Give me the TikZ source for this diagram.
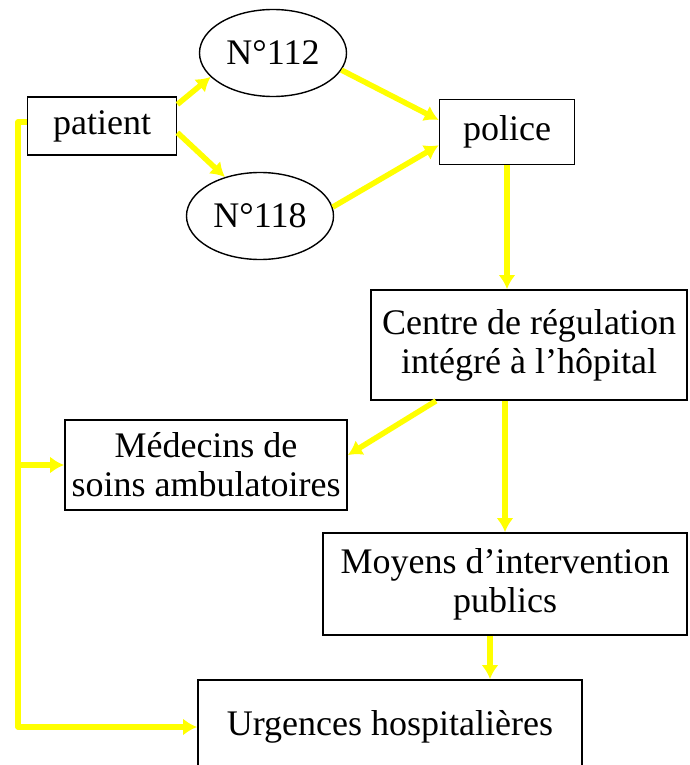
\documentclass[tikz,border=0pt]{standalone}
\usepackage{fontspec}
\setmainfont{Liberation Serif}
\usepackage{tikz}
\usetikzlibrary{shapes.geometric}
\usetikzlibrary{arrows.meta}
\definecolor{jaune}{RGB}{255,255,0}
\tikzset{
  Boite/.style={draw,line width=1.8pt,rectangle,align=center,inner sep=0pt}, % pour les cadres
  Ovale/.style={draw,line width=1.4pt,ellipse,inner sep=0pt,minimum width=147pt,minimum height=87pt}, % pour les numeros
  Fleche/.style={jaune,line width=5.5pt,->} % pour les fleches
}

\begin{document}
\begin{tikzpicture}[
x=1pt, y=-1pt,
font=\fontsize{36}{39}\selectfont,
>={Latex[length=14pt,width=17pt]} % pointes des fleches
]
\clip (0,0) rectangle (689,765);

%Cadres
\node[Boite, minimum width=149pt, minimum height=58pt] (patient) at (102,126) {patient};
\node[Ovale] (num112) at (273,53) {N°112};
\node[Ovale] (num118) at (260,216) {N°118};
\node[Boite, minimum width=135pt, minimum height=65pt] (police) at (507,132) {police};
\node[Boite, minimum width=316pt, minimum height=110pt] (centre) at (529,345)
  {Centre de régulation\\intégré à l’hôpital};
\node[Boite, minimum width=282pt, minimum height=90pt] (medecins) at (206,465)
  {Médecins de\\soins ambulatoires};
\node[Boite, minimum width=364pt, minimum height=102pt] (moyens) at (505,584)
  {Moyens d’intervention\\publics};
\node[Boite, minimum width=384pt, minimum height=94pt] (urgences) at (390,727)
  {Urgences hospitalières};

\coordinate (depart) at ([yshift=4pt]patient.west);
\coordinate (bus) at (18,0);

%Fleches
\draw[Fleche] (patient.16) -- (num112.201);
\draw[Fleche] (patient.-5) -- (num118.132);
\draw[Fleche] (num112.-14) -- (police.170);
\draw[Fleche] (num118.7) -- (police.191);
\draw[Fleche] (police.south) -- (police.south |- centre.north);
\draw[Fleche] (centre.211) -- (medecins.4);
\draw[Fleche] (centre.south -| moyens.north) -- (moyens.north);
\draw[Fleche] ([xshift=-15pt]moyens.south) -- ([xshift=-15pt]moyens.south |- urgences.north);

%Ligne directe du patient
\draw[Fleche, line join=round] (depart) -- (bus |- depart)
  -- (bus |- urgences.west) -- (urgences.west);
\draw[Fleche] (bus |- medecins.west) -- (medecins.west);

\end{tikzpicture}
\end{document}
